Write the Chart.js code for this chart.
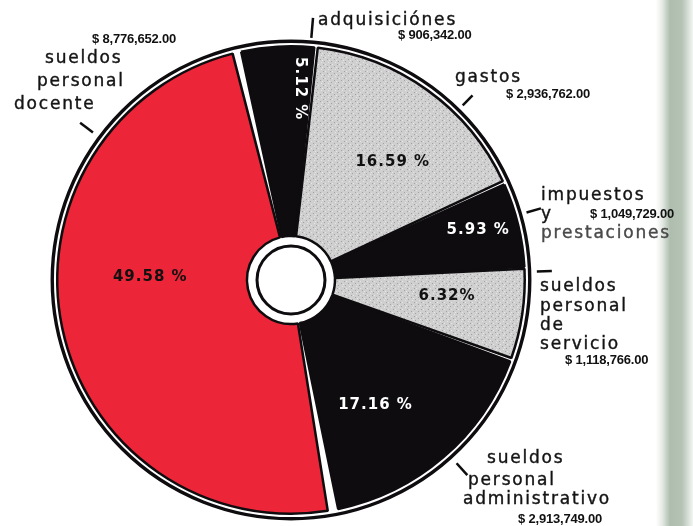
<!DOCTYPE html>
<html><head><meta charset="utf-8">
<script src="https://cdn.jsdelivr.net/npm/chart.js@4.4.1/dist/chart.umd.min.js"></script>
<style>
html,body{margin:0;padding:0;}
body{width:693px;height:526px;position:relative;overflow:hidden;background:linear-gradient(to right,#fff 0,#fff 656px,#e6ebe6 662px,#aebdae 670px,#b4c3b4 682px,#dce3dc 689px,#f4f6f4 693px);}
canvas{position:absolute;left:0;top:0;}
.t{position:absolute;white-space:nowrap;font-family:"DejaVu Sans",sans-serif;font-size:17px;letter-spacing:1.8px;color:#141414;line-height:1;transform:translateY(-50%);-webkit-text-stroke:0.4px currentColor;}
.m{position:absolute;white-space:nowrap;font-family:"Liberation Sans",Arial,sans-serif;font-weight:bold;font-size:13px;color:#111;line-height:1;letter-spacing:-0.2px;transform:translateY(-50%);}
</style></head>
<body>
<canvas id="c" width="693" height="526"></canvas>
<div id="labels"></div>
<script>
// ---- data ----
const categories = ['sueldos personal docente','adquisiciones','gastos','impuestos y prestaciones','sueldos personal de servicio','sueldos personal administrativo'];
const amounts = [8776652, 906342, 2936762, 1049729, 1118766, 2913749];
const percentLabels = ['49.58 %','5.12 %','16.59 %','5.93 %','6.32%','17.16 %'];
const amountLabels = ['$ 8,776,652.00','$ 906,342.00','$ 2,936,762.00','$ 1,049,729.00','$ 1,118,766.00','$ 2,913,749.00'];
const nameLines = [['sueldos','personal','docente'],['adquisiciónes'],['gastos'],['impuestos','y','prestaciones'],['sueldos','personal','de','servicio'],['sueldos','personal','administrativo']];

// ---- layout (not data) ----
const sliceStyle = ['red','black','gray','black','gray','black'];
const pctColor = ['#111','#fff','#111','#fff','#111','#fff'];
const pctPolar = [[271,0.61,0],[2.7,0.83,90],[40.8,0.675,0],[75,0.84,0],[96,0.68,0],[146,0.655,0]];
const tickPolar = [[306.7,247,263],[4.8,243,263],[44.5,245,259],[74,245,260],[88,246,261],[137.9,247,263]];
const namePos = [
  [[45,57],[37,80],[14,103]],
  [[318,19]],
  [[455,76]],
  [[541,194],[541,213],[541,232]],
  [[540,285],[540,305],[540,324],[540,343]],
  [[487,457],[468,479],[463,498]]
];
const amountPos = [[92,38],[398,34],[506,93],[590,213],[565,359],[518,518]];

// labels as HTML text
const lab = document.getElementById('labels');
nameLines.forEach((lines,i)=>{
  lines.forEach((s,j)=>{
    const d=document.createElement('div');d.className='t';d.textContent=s;
    d.style.left=namePos[i][j][0]+'px';d.style.top=namePos[i][j][1]+'px';
    if(i===3 && j===2) d.style.color='#4a4a4a';
    lab.appendChild(d);
  });
  const m=document.createElement('div');m.className='m';m.textContent=amountLabels[i];
  m.style.left=amountPos[i][0]+'px';m.style.top=amountPos[i][1]+'px';
  lab.appendChild(m);
});

// stipple gray pattern
function grayPattern(){
  const p=document.createElement('canvas');p.width=7;p.height=7;
  const g=p.getContext('2d');
  g.fillStyle='#cfcfcf';g.fillRect(0,0,7,7);
  g.fillStyle='#a2a2a2';
  [[1,1],[5,3],[2,5]].forEach(([x,y])=>g.fillRect(x,y,1,1));
  g.fillStyle='#e6e6e6';
  [[3,1],[0,4],[6,6]].forEach(([x,y])=>g.fillRect(x,y,1,1));
  return document.getElementById('c').getContext('2d').createPattern(p,'repeat');
}
const gp = grayPattern();
const colorMap = {red:'#ec2538', black:'#0e0c0f', gray:gp};

const decor = {
  id:'decor',
  beforeDatasetsDraw(chart){
    const arc=chart.getDatasetMeta(0).data[0];
    const ctx=chart.ctx;
    ctx.save();
    ctx.beginPath();ctx.arc(arc.x,arc.y,arc.outerRadius+8,0,Math.PI*2);
    ctx.lineWidth=3.4;ctx.strokeStyle='#0e0c0f';ctx.stroke();
    ctx.restore();
  },
  afterDatasetsDraw(chart){
    const meta=chart.getDatasetMeta(0);
    const arc=meta.data[0];
    const cx=arc.x, cy=arc.y, R=arc.outerRadius;
    const ctx=chart.ctx;
    ctx.save();
    // center disc
    ctx.beginPath();ctx.arc(cx,cy,34,0,Math.PI*2);
    ctx.fillStyle='#fff';ctx.fill();
    ctx.lineWidth=3;ctx.strokeStyle='#0e0c0f';ctx.stroke();
    // ticks
    ctx.lineWidth=2.5;ctx.lineCap='butt';
    tickPolar.forEach(([a,r1,r2])=>{
      const t=a*Math.PI/180;
      ctx.beginPath();
      ctx.moveTo(cx+r1*Math.sin(t),cy-r1*Math.cos(t));
      ctx.lineTo(cx+r2*Math.sin(t),cy-r2*Math.cos(t));
      ctx.stroke();
    });
    // percent labels
    ctx.font='bold 15px "DejaVu Sans"';
    try{ctx.letterSpacing='1px';}catch(e){}
    ctx.textAlign='center';ctx.textBaseline='middle';
    percentLabels.forEach((s,i)=>{
      const [a,f,rot]=pctPolar[i];
      const t=a*Math.PI/180;
      const x=cx+f*R*Math.sin(t), y=cy-f*R*Math.cos(t);
      ctx.save();ctx.translate(x,y);ctx.rotate(rot*Math.PI/180);
      ctx.fillStyle=pctColor[i];ctx.fillText(s,0,0);
      ctx.restore();
    });
    ctx.restore();
  }
};

new Chart(document.getElementById('c'),{
  type:'doughnut',
  data:{labels:categories,datasets:[{
    data:amounts,
    backgroundColor:sliceStyle.map(s=>colorMap[s]),
    borderColor:'#0e0c0f',borderWidth:2.5,spacing:6
  }]},
  options:{
    responsive:false,animation:false,events:[],
    rotation:169,cutout:41,
    layout:{padding:{left:56,right:167,top:45,bottom:11}},
    plugins:{legend:{display:false},tooltip:{enabled:false}}
  },
  plugins:[decor]
});
</script>
</body></html>
